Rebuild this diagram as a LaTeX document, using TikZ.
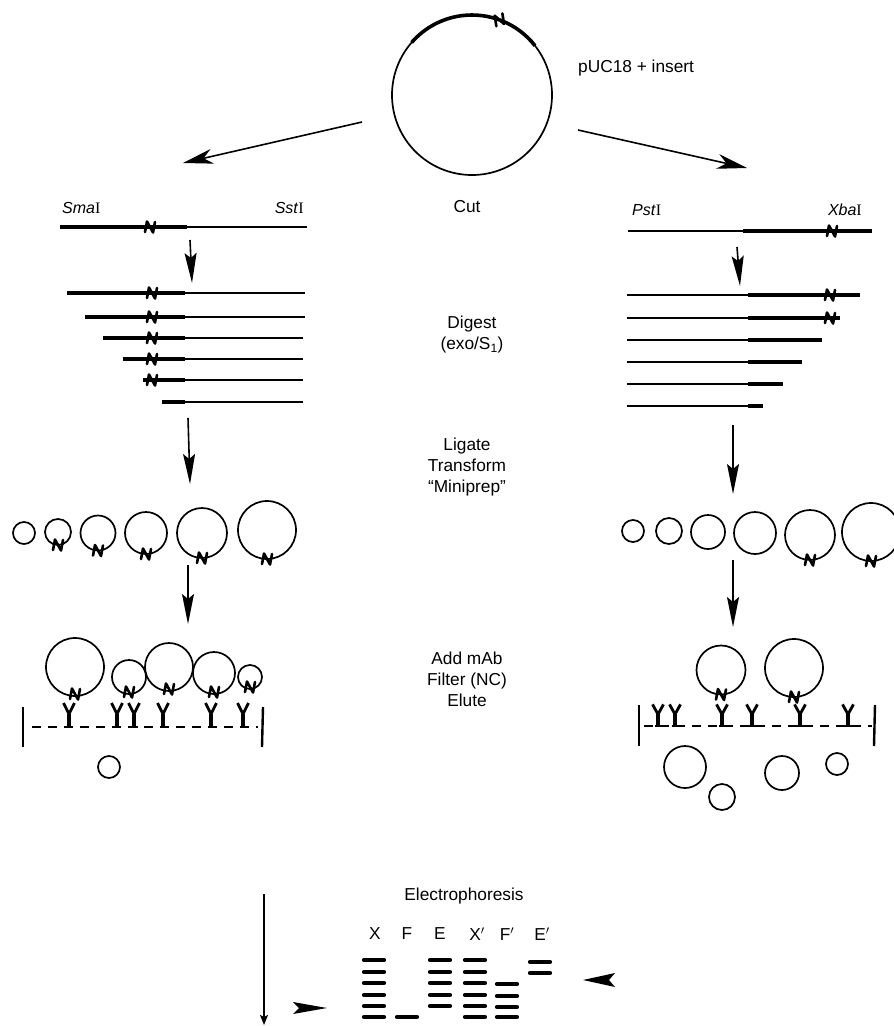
\documentclass[tikz,border=0pt]{standalone}
\usepackage{fontspec}
\setmainfont{Liberation Sans}
\newfontfamily\serifI{Liberation Serif}
\usetikzlibrary{arrows.meta,calc}
\tikzset{
  nk/.pic={\draw[line width=2.6pt,line join=round,line cap=round] (-5,5) -- (-3,-5.5) -- (3,5.5) -- (5,-5);},
  ab/.pic={\draw[line width=2.8pt,line join=miter] (-5.5,-24) -- (0,-13) -- (5.5,-24);
           \draw[line width=3.6pt] (0,-13) -- (0,0);
           \draw[line width=2.6pt] (-3.5,0) -- (3.5,0);},
}
\begin{document}
\begin{tikzpicture}[x=1pt,y=-1pt,
  lbl/.style={font=\fontsize{17.3}{21}\selectfont, align=center, inner sep=0pt},
  enz/.style={font=\fontsize{16}{19}\selectfont, inner sep=0pt},
  thindna/.style={line width=1.5pt},
  thickdna/.style={line width=3.2pt},
  ring/.style={line width=1.7pt},
  bigarrow/.style={line width=1.6pt, -{Stealth[length=30pt,width=15pt,inset=9pt]}},
  downarrow/.style={line width=1.6pt, -{Stealth[length=30pt,width=12pt,inset=5pt]}},
  band/.style={line width=4.2pt, line cap=round},
  filt/.style={line width=2.2pt, dash pattern=on 9pt off 7pt},
  bar/.style={line width=2.4pt},
]
\useasboundingbox (0,0) rectangle (894,1026);

% ---- top plasmid
\node[circle, draw, ring, minimum size=160pt, inner sep=0pt] (plasmid) at (472,95) {};
\draw[line width=3.6pt] (472,95) ++(-38:80) arc[start angle=-38, end angle=-139, radius=80];
\pic[rotate=20] at ($(472,95)+(-70:80)$) {nk};
\node[lbl, anchor=west] (puc) at (578,68) {pUC18 + insert};
\node[lbl] (cut) at (467,207) {Cut};

% ---- diagonal arrows
\coordinate (la0) at (362,122); \coordinate (la1) at (183,163);
\coordinate (ra0) at (578,130); \coordinate (ra1) at (747,168);
\draw[bigarrow] (la0) -- (la1);
\draw[bigarrow] (ra0) -- (ra1);

% ---- enzyme labels
\node[enz, anchor=west] (sma) at (62,208) {\itshape Sma\/\serifI\upshape I};
\node[enz, anchor=east] (sst) at (304,208) {\itshape Sst\/\serifI\upshape I};
\node[enz, anchor=west] (pst) at (632,210) {\itshape Pst\/\serifI\upshape I};
\node[enz, anchor=east] (xba) at (862,210) {\itshape Xba\/\serifI\upshape I};

% ---- left cut fragment and digests
\draw[thindna] (187,227) -- (307,227);
\draw[thickdna] (60,227) -- (187,227);
\pic at (150,227) {nk};
\foreach \y/\s/\e/\m in {293/67/305/1, 317/85/305/1, 338/103/303/1, 359/123/303/1, 380/143/303/1, 402/162/303/0}{
  \draw[thindna] (185,\y) -- (\e,\y);
  \draw[thickdna] (\s,\y) -- (185,\y);
  \ifnum\m=1 \pic at (152,\y) {nk}; \fi
}
% ---- right cut fragment and digests
\draw[thindna] (628,231) -- (743,231);
\draw[thickdna] (743,231) -- (872,231);
\pic at (832,231) {nk};
\foreach \y/\e/\m in {295/860/1, 318/840/1, 340/822/0, 362/802/0, 384/783/0, 406/763/0}{
  \draw[thindna] (627,\y) -- (748,\y);
  \draw[thickdna] (748,\y) -- (\e,\y);
  \ifnum\m=1 \pic at (830,\y) {nk}; \fi
}

% ---- short arrows
\coordinate (ls0) at (190,240); \coordinate (ls1) at (192,283);
\coordinate (rs0) at (737,247); \coordinate (rs1) at (740,286);
\draw[downarrow] (ls0) -- (ls1);
\draw[downarrow] (rs0) -- (rs1);

\node[lbl] (digest) at (472,335) {Digest\\(exo/S\textsubscript{1})};

% ---- arrows to circles
\coordinate (lb0) at (188,418); \coordinate (lb1) at (190,484);
\coordinate (rb0) at (733,425); \coordinate (rb1) at (733,494);
\draw[downarrow] (lb0) -- (lb1);
\draw[downarrow] (rb0) -- (rb1);

\node[lbl] (ligate) at (467,467) {Ligate\\Transform\\``Miniprep''};

% ---- left circles row
\draw[ring] (24,533) circle (11);
\foreach \x/\y/\r in {58/532/13, 98/533/17.5, 146/533/21, 202/533/25, 267/530/29}{
  \draw[ring] (\x,\y) circle (\r);
  \pic at (\x,\y+\r) {nk};
}
% ---- right circles row
\foreach \x/\y/\r in {633/531/11, 669/531/13, 708/532/17, 755/533/21}{
  \draw[ring] (\x,\y) circle (\r);
}
\foreach \x/\y/\r in {810/535/25, 871/532/29}{
  \draw[ring] (\x,\y) circle (\r);
  \pic at (\x,\y+\r) {nk};
}

% ---- arrows to filters
\coordinate (lc0) at (188,565); \coordinate (lc1) at (188,624);
\coordinate (rc0) at (733,560); \coordinate (rc1) at (733,627);
\draw[downarrow] (lc0) -- (lc1);
\draw[downarrow] (rc0) -- (rc1);

\node[lbl] (addmab) at (467,679) {Add mAb\\Filter (NC)\\Elute};

% ---- left filter
\draw[filt] (32,727) -- (258,727);
\draw[bar] (23,707) -- (23,747);
\draw[bar] (263,707) -- (262,747);
\foreach \x in {69,117,134,163,211,243}{ \pic at (\x,727) {ab}; }
\foreach \x/\y/\r in {75/667/29, 129/677/17, 169/667/24, 214/673/21, 250/677/12}{
  \draw[ring] (\x,\y) circle (\r);
  \pic at (\x,\y+\r-2) {nk};
}
\draw[ring] (109,767) circle (11);

% ---- right filter
\draw[filt] (644,726) -- (872,726);
\draw[bar] (639,705) -- (639,746);
\draw[bar] (875,705) -- (874,746);
\foreach \x in {658,675,722,752,800,848}{ \pic[yscale=0.9] at (\x,726) {ab}; }
\foreach \x/\y/\r in {721/670/24.5, 794/668/29}{
  \draw[ring] (\x,\y) circle (\r);
  \pic at (\x,\y+\r) {nk};
}
\draw[ring] (685,767) circle (21);
\draw[ring] (722,797) circle (13);
\draw[ring] (782,773) circle (17);
\draw[ring] (837,764) circle (11);

% ---- electrophoresis
\node[lbl] (electro) at (464,896) {Electrophoresis};
\coordinate (e0) at (264,894); \coordinate (e1) at (264,1025);
\draw[line width=1.5pt, -{Stealth[length=10pt,width=8pt,inset=2pt]}] (e0) -- (e1);
\node[lbl] (lx) at (375,934) {X};
\node[lbl] (lf) at (407,934) {F};
\node[lbl] (le) at (440,934) {E};
\node[lbl] (lxp) at (477,934) {X$'$};
\node[lbl] (lfp) at (507,934) {F$'$};
\node[lbl] (lep) at (542,934) {E$'$};
\foreach \x/\ys in {374/{960,972,983,995,1006,1017}, 407/{1017}, 440/{960,972,983,995,1006}, 475/{960,972,983,995,1006,1017}, 507/{984,996,1007,1017}, 540/{962,973}}{
  \foreach \y in \ys { \draw[band] (\x-10,\y) -- (\x+10,\y); }
}
\fill (293,1002) -- (327,1008) -- (293,1014) -- (299,1008) -- cycle;
\fill (615,973) -- (583,980) -- (615,987) -- (609,980) -- cycle;
\end{tikzpicture}
\end{document}
